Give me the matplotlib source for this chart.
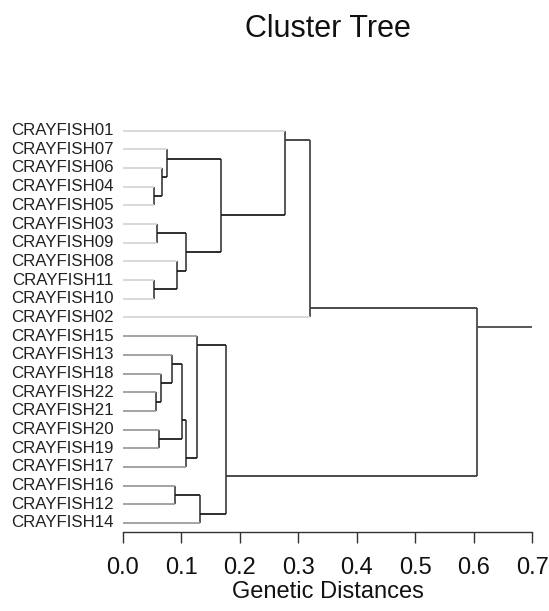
import matplotlib
matplotlib.use("Agg")
import matplotlib.pyplot as plt

plt.rcParams['font.family'] = ['Liberation Sans', 'DejaVu Sans']

# leaves in the order they are drawn, top to bottom
leaves = ['CRAYFISH01', 'CRAYFISH07', 'CRAYFISH06', 'CRAYFISH04', 'CRAYFISH05',
          'CRAYFISH03', 'CRAYFISH09', 'CRAYFISH08', 'CRAYFISH11', 'CRAYFISH10',
          'CRAYFISH02', 'CRAYFISH15', 'CRAYFISH13', 'CRAYFISH18', 'CRAYFISH22',
          'CRAYFISH21', 'CRAYFISH20', 'CRAYFISH19', 'CRAYFISH17', 'CRAYFISH16',
          'CRAYFISH12', 'CRAYFISH14']

# merges: a child is a leaf name or the index of an earlier merge
merge_left = ['CRAYFISH04', 'CRAYFISH06', 'CRAYFISH07', 'CRAYFISH03', 'CRAYFISH11',
              'CRAYFISH08', 3, 2, 'CRAYFISH01', 8,
              'CRAYFISH22', 'CRAYFISH18', 'CRAYFISH13', 'CRAYFISH20', 12,
              14, 'CRAYFISH15', 'CRAYFISH16', 17, 16, 9]
merge_right = ['CRAYFISH05', 0, 1, 'CRAYFISH09', 'CRAYFISH10',
               4, 5, 6, 7, 'CRAYFISH02',
               'CRAYFISH21', 10, 11, 'CRAYFISH19', 13,
               'CRAYFISH17', 15, 'CRAYFISH12', 'CRAYFISH14', 18, 19]
merge_height = [0.0535, 0.068, 0.075, 0.058, 0.054,
                0.093, 0.109, 0.1675, 0.277, 0.32,
                0.057, 0.0655, 0.084, 0.062, 0.102,
                0.108, 0.1275, 0.089, 0.132, 0.1766, 0.605]
root_end = 0.7

x_ticks = [0.0, 0.1, 0.2, 0.3, 0.4, 0.5, 0.6, 0.7]

row = {name: i + 1 for i, name in enumerate(leaves)}
top_group = set(leaves[:11])

fig = plt.figure(figsize=(5.49, 6.11), dpi=100)
ax = fig.add_axes([0.2235, 0.1288, 0.7461, 0.6727])

node_y = []
node_span = []  # first and last leaf row of each merge


def child_info(c):
    if isinstance(c, str):
        return row[c], 0.0, row[c], row[c]
    return node_y[c], merge_height[c], node_span[c][0], node_span[c][1]


for i in range(len(merge_height)):
    ly, lx, lfirst, llast = child_info(merge_left[i])
    ry, rx, rfirst, rlast = child_info(merge_right[i])
    h = merge_height[i]
    # node sits between the two neighbouring leaves of its children
    y = (llast + rfirst) / 2.0
    node_y.append(y)
    node_span.append((lfirst, rlast))

    bar_col = '#4a4a4a'
    ax.plot([h, h], [ly, ry], color=bar_col, lw=1.3, solid_capstyle='butt')
    for c, cy, cx in ((merge_left[i], ly, lx), (merge_right[i], ry, rx)):
        if isinstance(c, str):
            col = '#d6d6d6' if c in top_group else '#9c9c9c'
        else:
            col = '#1e1e1e' if h < 0.3 else '#3c3c3c'
        ax.plot([cx, h], [cy, cy], color=col, lw=1.3, solid_capstyle='butt')

# root stem
ax.plot([merge_height[-1], root_end], [node_y[-1], node_y[-1]],
        color='#4a4a4a', lw=1.3, solid_capstyle='butt')

for name in leaves:
    ax.text(-0.0155, row[name], name, ha='right', va='center',
            fontsize=12.2, color='#222222')

ax.set_xlim(0, 0.7)
ax.set_ylim(22.5, 0.5)
ax.set_yticks([])
ax.set_xticks(x_ticks)
ax.set_xticklabels(['%.1f' % t for t in x_ticks], fontsize=17, color='#111111')
ax.tick_params(axis='x', length=8, width=1, color='#333333', pad=9.5)
for s in ['top', 'right', 'left']:
    ax.spines[s].set_visible(False)
ax.spines['bottom'].set_color('#333333')
ax.spines['bottom'].set_linewidth(1)
ax.set_xlabel('Genetic Distances', fontsize=17, color='#111111', labelpad=1.5)

fig.text(0.5965, 1 - 29 / 611, 'Cluster Tree', ha='center', va='center',
         fontsize=22, color='#111111')

fig.savefig('out.png', dpi=100)
